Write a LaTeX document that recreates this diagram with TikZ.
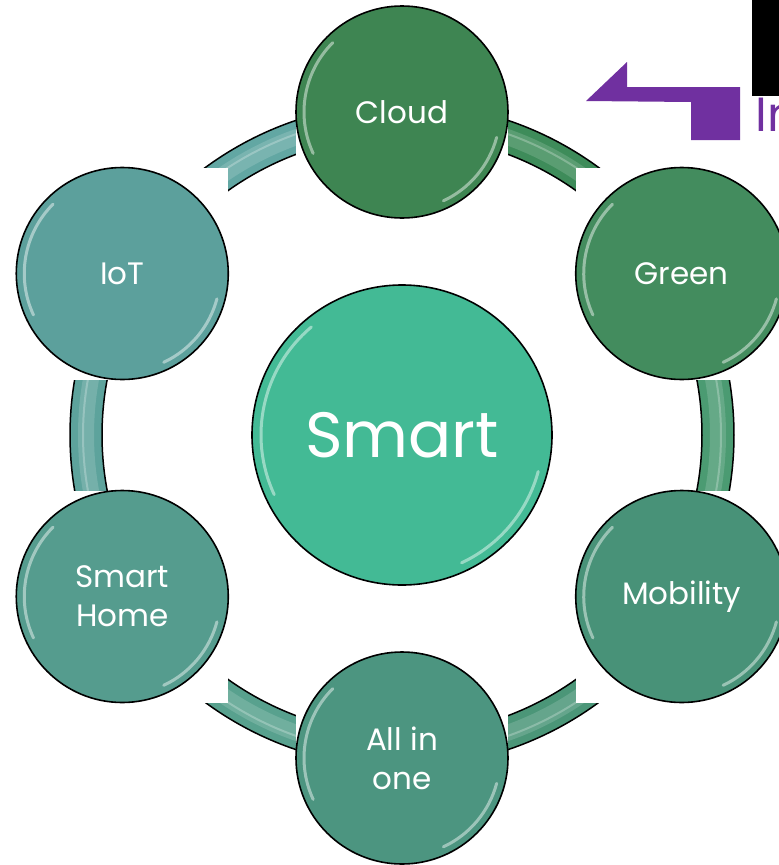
\documentclass[tikz,border=0pt]{standalone}
\usepackage{fontspec}
\setmainfont{Poppins}
\usetikzlibrary{calc}
\definecolor{segA}{HTML}{62A7A3}
\definecolor{segB}{HTML}{3E8C5A}
\definecolor{segC}{HTML}{4B9B72}
\definecolor{segD}{HTML}{4B9678}
\definecolor{segE}{HTML}{58A18E}
\definecolor{segF}{HTML}{5DA39C}
\definecolor{cCloud}{HTML}{3E8552}
\definecolor{cGreen}{HTML}{438C5E}
\definecolor{cMob}{HTML}{489278}
\definecolor{cAll}{HTML}{4C9580}
\definecolor{cHome}{HTML}{559C8E}
\definecolor{cIoT}{HTML}{5CA09C}
\definecolor{cHub}{HTML}{43BA95}
\definecolor{arrowpurple}{HTML}{7030A0}
\begin{document}
\begin{tikzpicture}[x=1pt,y=1pt,
  sat/.style={circle, minimum size=212pt, inner sep=0pt, draw=black, line width=1.6pt,
    text=white, font=\fontsize{31}{39}\selectfont, align=center},
  hub/.style={circle, minimum size=300pt, inner sep=0pt, draw=black, line width=1.6pt,
    text=white, font=\fontsize{64}{76}\selectfont, fill=cHub},
  gloss/.style={white, opacity=.45, line width=3pt, line cap=round},
  ringedge/.style={black, line width=1.5pt}]
\useasboundingbox (0,0) rectangle (779,-865);
\clip (0,0) rectangle (779,-865);
\coordinate (C) at (402,-435);
% ring segments
\foreach \m/\col in {120/segA,60/segB,0/segC,-60/segD,-120/segE,180/segF}{
  \pgfmathsetmacro\a{\m-30}
  \pgfmathsetmacro\b{\m+30}
  \fill[\col] ($(C)+(\a:332)$) arc[start angle=\a,end angle=\b,radius=332]
     -- ($(C)+(\b:300)$) arc[start angle=\b,end angle=\a,radius=300] -- cycle;
  \draw[white,opacity=.15,line width=16pt] ($(C)+(\a:316)$) arc[start angle=\a,end angle=\b,radius=316];
  \draw[white,opacity=.25,line width=2pt] ($(C)+(\a:319)$) arc[start angle=\a,end angle=\b,radius=319];
  \draw[ringedge] ($(C)+(\a:332)$) arc[start angle=\a,end angle=\b,radius=332];
  \draw[ringedge] ($(C)+(\a:300)$) arc[start angle=\a,end angle=\b,radius=300];
}
% satellite positions
\coordinate (pCloud) at ($(C)+(90:323)$);
\coordinate (pGreen) at ($(C)+(30:323)$);
\coordinate (pMob) at ($(C)+(-30:323)$);
\coordinate (pAll) at ($(C)+(-90:323)$);
\coordinate (pHome) at ($(C)+(-150:323)$);
\coordinate (pIoT) at ($(C)+(150:323)$);
\foreach \p in {pCloud,pGreen,pMob,pAll,pHome,pIoT}{
  \fill[white] ($(\p)+(-106,-106)$) rectangle ($(\p)+(106,106)$);
}
% nodes
\node[hub] (smart) at (C) {Smart};
\node[sat, fill=cCloud] (cloud) at (pCloud) {Cloud};
\node[sat, fill=cGreen] (green) at (pGreen) {Green};
\node[sat, fill=cMob] (mobility) at (pMob) {Mobility};
\node[sat, fill=cAll] (allinone) at (pAll) {All in\\one};
\node[sat, fill=cHome] (home) at (pHome) {Smart\\Home};
\node[sat, fill=cIoT] (iot) at (pIoT) {IoT};
% gloss
\foreach \n in {cloud,green,mobility,allinone,home,iot}{
  \draw[gloss] ($(\n.center)+(205:98)$) arc[start angle=205,end angle=135,radius=98];
  \draw[gloss] ($(\n.center)+(-15:98)$) arc[start angle=-15,end angle=-65,radius=98];
}
\draw[gloss] ($(smart.center)+(205:141)$) arc[start angle=205,end angle=130,radius=141];
\draw[gloss] ($(smart.center)+(-15:141)$) arc[start angle=-15,end angle=-65,radius=141];
% top-right fragments
\fill[black] (752,0) rectangle (779,-96);
\fill[arrowpurple] (586,-101) -- (627,-62) -- (627,-87) -- (740,-87) -- (740,-140)
   -- (691,-140) -- (691,-102) -- cycle;
\node[anchor=base west, inner sep=0pt, text=arrowpurple, font=\fontsize{48}{48}\selectfont] (intro) at (755,-131) {In};
\end{tikzpicture}
\end{document}
